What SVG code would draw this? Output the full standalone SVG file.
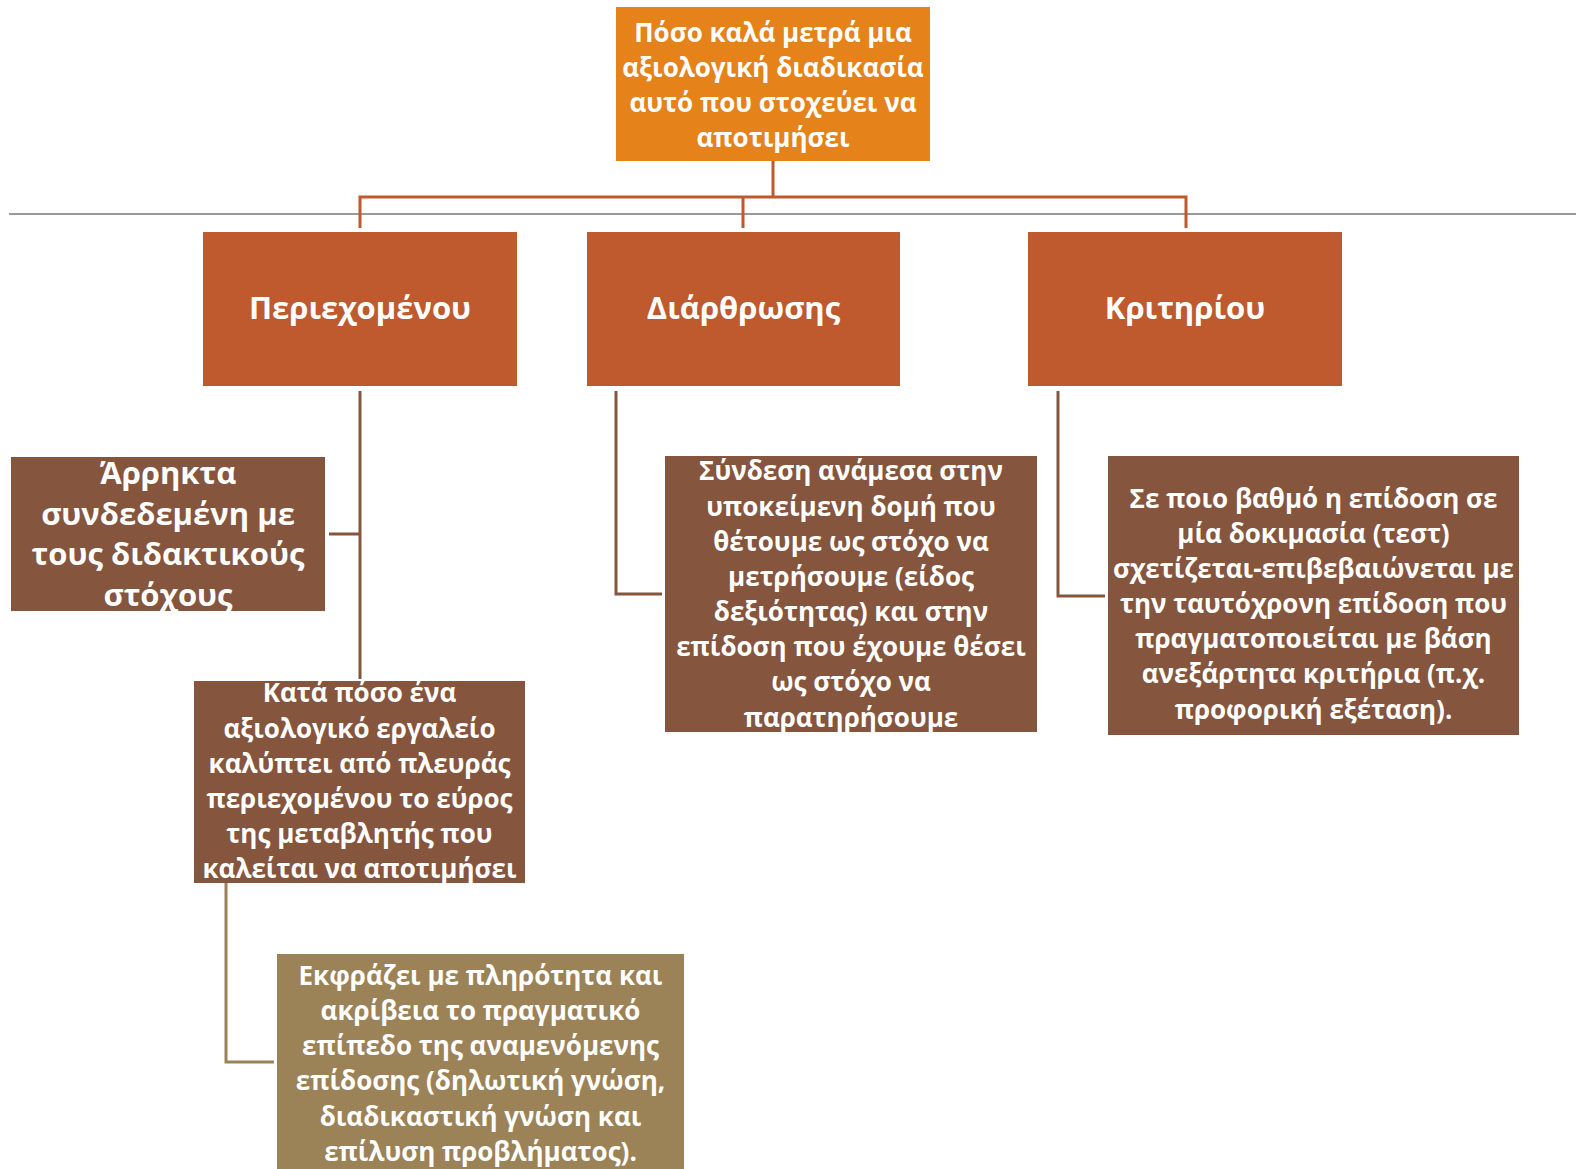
<svg xmlns="http://www.w3.org/2000/svg" width="1576" height="1169" viewBox="0 0 1576 1169">
<style>
text{font-family:"Open Sans","Noto Sans","DejaVu Sans",sans-serif;font-weight:bold;fill:#fff;text-anchor:middle}
.t26{font-size:26px}
.t30{font-size:31px}
.t32{font-size:31px}
.c-or{stroke:#BE5A2D;stroke-width:3;fill:none}
.c-br{stroke:#85553E;stroke-width:3;fill:none}
.c-tan{stroke:#9C8257;stroke-width:3;fill:none}
</style>
<rect width="1576" height="1169" fill="#fff"/>
<line x1="9" y1="214" x2="1576" y2="214" stroke="#9a9a9a" stroke-width="2"/>
<g id="connectors">
<path class="c-or" d="M773 161V197M360 228V197H1186V228M743 197V228"/>
<path class="c-br" d="M360 391V679M329 534H360"/>
<path class="c-br" d="M616 391V594H662"/>
<path class="c-br" d="M1058 391V596H1105"/>
<path class="c-tan" d="M226 883V1062H274"/>
</g>
<g id="root">
<rect x="616" y="7" width="314" height="154" fill="#E5821A"/>
<text class="t26" x="773"><tspan x="773" y="42">Πόσο καλά μετρά μια</tspan><tspan x="773" y="77">αξιολογική διαδικασία</tspan><tspan x="773" y="112">αυτό που στοχεύει να</tspan><tspan x="773" y="147">αποτιμήσει</tspan></text>
</g>
<g id="periexomenou">
<rect x="203" y="232" width="314" height="154" fill="#BE5A2D"/>
<text class="t30" x="360" y="319">Περιεχομένου</text>
</g>
<g id="diarthrosis">
<rect x="587" y="232" width="313" height="154" fill="#BE5A2D"/>
<text class="t30" x="743.5" y="319">Διάρθρωσης</text>
</g>
<g id="kritiriou">
<rect x="1028" y="232" width="314" height="154" fill="#BE5A2D"/>
<text class="t30" x="1185" y="319">Κριτηρίου</text>
</g>
<g id="arrikta">
<rect x="11" y="457" width="314" height="154" fill="#85553E"/>
<text class="t32"><tspan x="168" y="484">Άρρηκτα</tspan><tspan x="168" y="525">συνδεδεμένη με</tspan><tspan x="168" y="565">τους διδακτικούς</tspan><tspan x="168" y="606">στόχους</tspan></text>
</g>
<g id="kata-poso">
<rect x="194" y="681" width="331" height="202" fill="#85553E"/>
<text class="t26"><tspan x="359.5" y="702">Κατά πόσο ένα</tspan><tspan x="359.5" y="738">αξιολογικό εργαλείο</tspan><tspan x="359.5" y="773">καλύπτει από πλευράς</tspan><tspan x="359.5" y="808">περιεχομένου το εύρος</tspan><tspan x="359.5" y="843">της μεταβλητής που</tspan><tspan x="359.5" y="878">καλείται να αποτιμήσει</tspan></text>
</g>
<g id="ekfrazei">
<rect x="277" y="954" width="407" height="215" fill="#9C8257"/>
<text class="t26"><tspan x="480.5" y="985">Εκφράζει με πληρότητα και</tspan><tspan x="480.5" y="1020">ακρίβεια το πραγματικό</tspan><tspan x="480.5" y="1055">επίπεδο της αναμενόμενης</tspan><tspan x="480.5" y="1090">επίδοσης (δηλωτική γνώση,</tspan><tspan x="480.5" y="1126">διαδικαστική γνώση και</tspan><tspan x="480.5" y="1161">επίλυση προβλήματος).</tspan></text>
</g>
<g id="syndesi">
<rect x="665" y="456" width="372" height="276" fill="#85553E"/>
<text class="t26"><tspan x="851" y="480">Σύνδεση ανάμεσα στην</tspan><tspan x="851" y="516">υποκείμενη δομή που</tspan><tspan x="851" y="551">θέτουμε ως στόχο να</tspan><tspan x="851" y="586">μετρήσουμε (είδος</tspan><tspan x="851" y="621">δεξιότητας) και στην</tspan><tspan x="851" y="656">επίδοση που έχουμε θέσει</tspan><tspan x="851" y="691">ως στόχο να</tspan><tspan x="851" y="727">παρατηρήσουμε</tspan></text>
</g>
<g id="se-poio">
<rect x="1108" y="456" width="411" height="279" fill="#85553E"/>
<text class="t26"><tspan x="1313.5" y="508">Σε ποιο βαθμό η επίδοση σε</tspan><tspan x="1313.5" y="543">μία δοκιμασία (τεστ)</tspan><tspan x="1313.5" y="578">σχετίζεται-επιβεβαιώνεται με</tspan><tspan x="1313.5" y="613">την ταυτόχρονη επίδοση που</tspan><tspan x="1313.5" y="648">πραγματοποιείται με βάση</tspan><tspan x="1313.5" y="683">ανεξάρτητα κριτήρια (π.χ.</tspan><tspan x="1313.5" y="719">προφορική εξέταση).</tspan></text>
</g>
</svg>
